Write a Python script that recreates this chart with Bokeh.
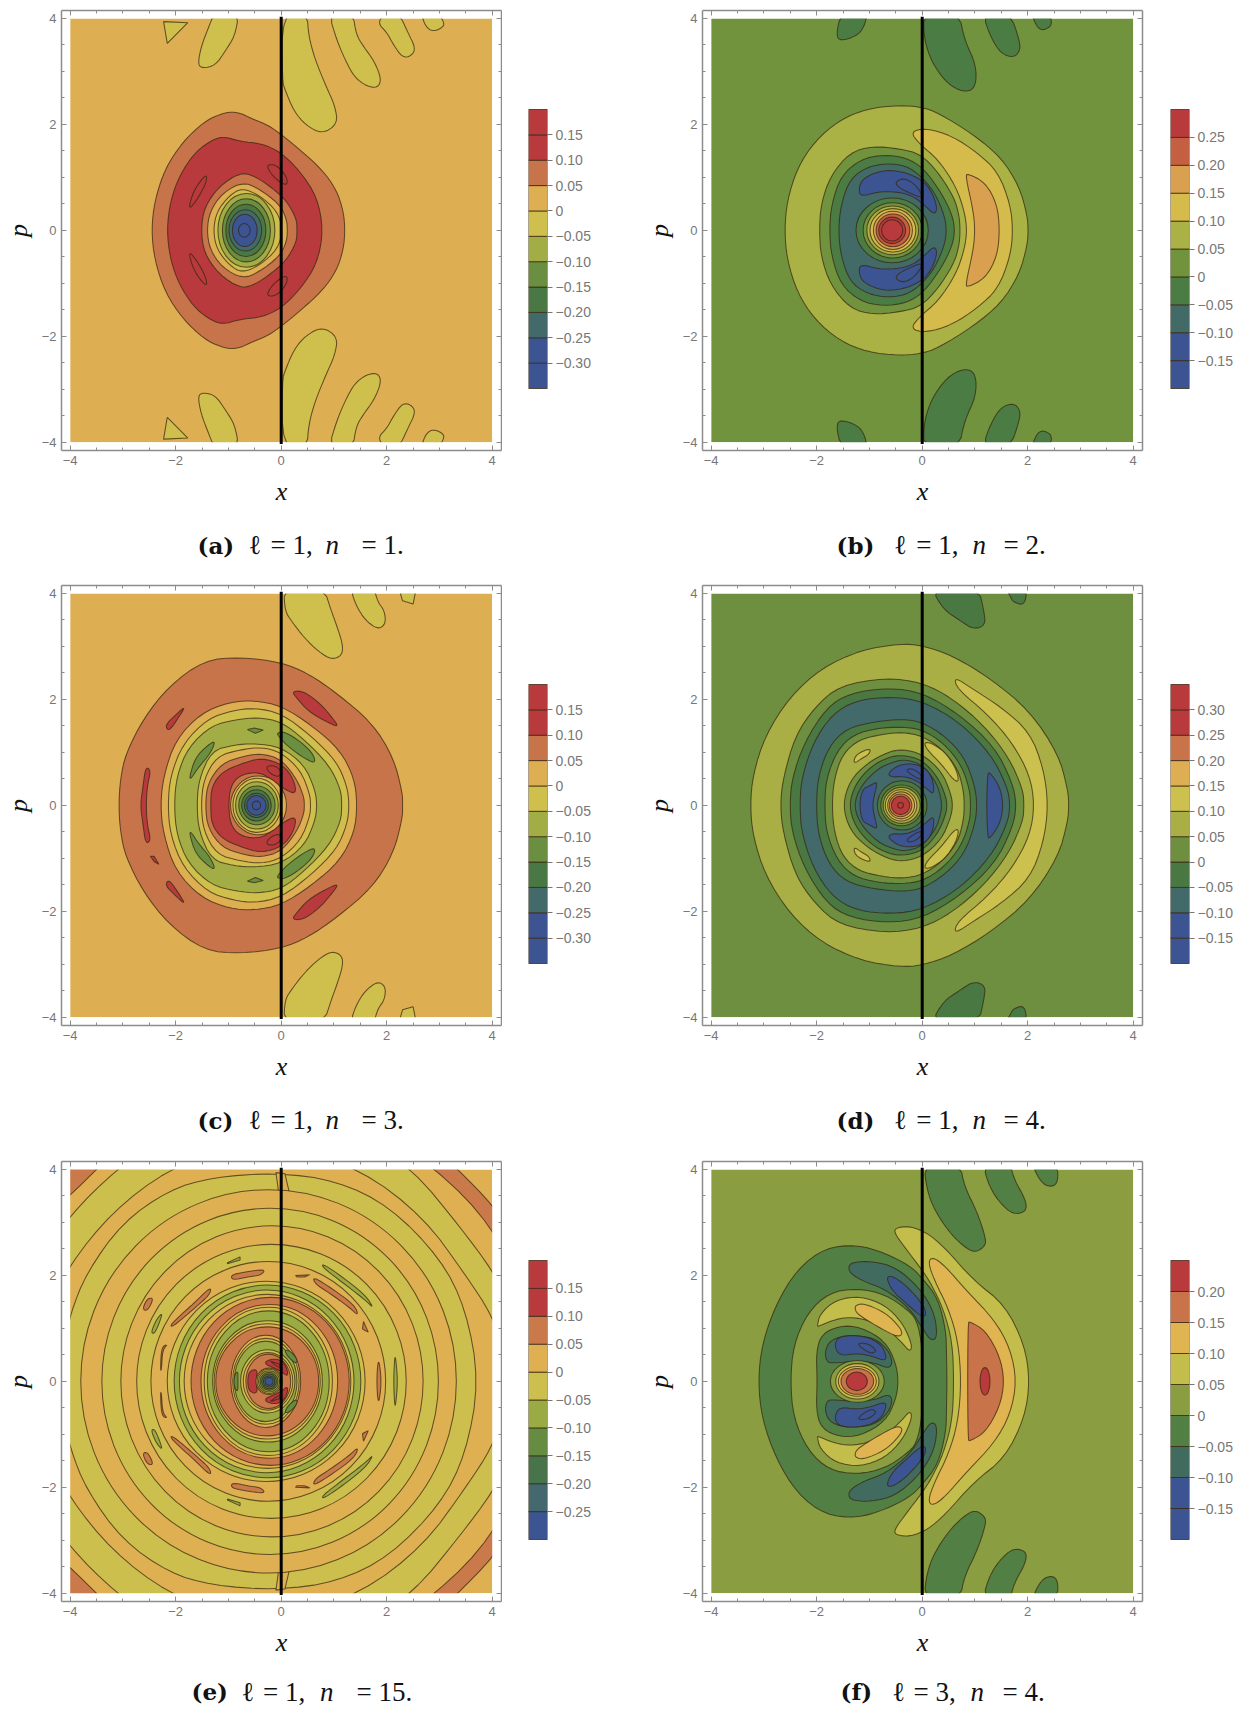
from bokeh.plotting import figure
from bokeh.layouts import row, column
from bokeh.models import Range1d, LinearAxis, FixedTicker
from bokeh.core.properties import value
from bokeh.embed import file_html
from bokeh.resources import INLINE

# ---- colour bands: k is the band's lower bound in units of 0.05 ----
RED = "#b83a3c"
BLUE = "#3c5592"
PAL_A = {3: RED, 2: RED, 1: "#c8744a", 0: "#ddae52", -1: "#cfbf4d", -2: "#a2ad45", -3: "#6b8f40", -4: "#4a7844", -5: "#436a6a", -6: BLUE, -7: BLUE}
PAL_B = {5: RED, 4: "#c45f42", 3: "#d9a14f", 2: "#d4bb4c", 1: "#aab145", 0: "#72933e", -1: "#4b7c44", -2: "#426a66", -3: BLUE, -4: BLUE}
PAL_C = dict(PAL_A)
PAL_D = {6: RED, 5: RED, 4: "#c8734a", 3: "#ddae52", 2: "#ccc04e", 1: "#a9ae45", 0: "#6d8f3f", -1: "#4a7843", -2: "#426a6a", -3: BLUE, -4: BLUE}
PAL_E = {3: RED, 2: RED, 1: "#ca7a4a", 0: "#dfb052", -1: "#ccbf4d", -2: "#9aab44", -3: "#658c40", -4: "#47744a", -5: "#44686e", -6: BLUE}
PAL_F = {4: RED, 3: "#c8734a", 2: "#e0b450", 1: "#c3bd4b", 0: "#8a9e41", -1: "#527f43", -2: "#426b60", -3: BLUE, -4: BLUE}

TICKS_A = [0.15, 0.10, 0.05, 0, -0.05, -0.10, -0.15, -0.20, -0.25, -0.30]
LABELS_A = ["0.15", "0.10", "0.05", "0", "−0.05", "−0.10", "−0.15", "−0.20", "−0.25", "−0.30"]
TICKS_B = [0.25, 0.20, 0.15, 0.10, 0.05, 0, -0.05, -0.10, -0.15]
LABELS_B = ["0.25", "0.20", "0.15", "0.10", "0.05", "0", "−0.05", "−0.10", "−0.15"]
TICKS_D = [0.30, 0.25, 0.20, 0.15, 0.10, 0.05, 0, -0.05, -0.10, -0.15]
LABELS_D = ["0.30", "0.25", "0.20", "0.15", "0.10", "0.05", "0", "−0.05", "−0.10", "−0.15"]
TICKS_E = [0.15, 0.10, 0.05, 0, -0.05, -0.10, -0.15, -0.20, -0.25]
LABELS_E = ["0.15", "0.10", "0.05", "0", "−0.05", "−0.10", "−0.15", "−0.20", "−0.25"]
TICKS_F = [0.20, 0.15, 0.10, 0.05, 0, -0.05, -0.10, -0.15]
LABELS_F = ["0.20", "0.15", "0.10", "0.05", "0", "−0.05", "−0.10", "−0.15"]

AXIS_TICKS = [-4, -2, 0, 2, 4]
AXIS_LABELS = ["−4", "−2", "0", "2", "4"]
AXIS_MINOR = [-3.5, -3, -2.5, -1.5, -1, -0.5, 0.5, 1, 1.5, 2.5, 3, 3.5]

# ---- contours, (x, p) ----
# H half contour from p=0 to p=0 mirrored; B blob mirrored; U single blob;
# O oval (k, centre x, width, height); R ring (k, left, right, top at x=0)
LAYERS_A = [
 ("B", -1, [(-2.23,3.94),(-1.77,3.92),(-2.16,3.53)]),
 ("B", -1, [(-1.58,3.13),(-1.49,3.06),(-1.25,3.11),(-1.05,3.4),(-.88,3.67),(-.8,4.1),(-1.27,4.1),(-1.39,3.8),(-1.52,3.46)]),
 ("B", -1, [(.02,4.1),(.49,4.1),(.52,3.67),(.64,3.23),(.85,2.72),(1.02,2.35),(1.07,2.01),(.78,1.82),(.47,1.98),(.24,2.25),(.07,2.66),(.02,2.82)]),
 ("B", -1, [(.9,4.1),(1.36,4.1),(1.42,3.7),(1.56,3.47),(1.76,3.2),(1.9,2.86),(1.83,2.69),(1.62,2.72),(1.39,2.89),(1.22,3.2),(1.05,3.6)]),
 ("B", -1, [(1.83,3.91),(2.0,3.74),(2.13,3.5),(2.3,3.26),(2.46,3.29),(2.55,3.43),(2.4,3.74),(2.23,4.1),(1.96,4.1)]),
 ("B", -1, [(2.65,4.1),(2.74,3.84),(2.88,3.75),(3.08,3.84),(3.08,3.94),(2.98,4.1)]),
 ("H", 1, [(-2.46,0),(-2.4,.56),(-2.2,1.17),(-1.86,1.68),(-1.46,2.05),(-1.15,2.2),(-.86,2.25),(-.51,2.09),(-.24,1.98),(0,1.81),(.37,1.51),(.78,1.14),(1.05,.76),(1.18,.36),(1.21,0)]),
 ("H", 2, [(-2.17,0),(-2.1,.56),(-1.93,1.03),(-1.66,1.44),(-1.39,1.66),(-1.12,1.78),(-.78,1.68),(-.37,1.64),(0,1.47),(.37,1.1),(.68,.63),(.8,0)]),
 ("B", 3, [(-1.77,.36),(-1.66,.76),(-1.42,1.07),(-1.41,.93),(-1.56,.63)]),
 ("B", 3, [(-.28,1.24),(-.1,1.24),(.1,1.03),(.12,.85),(-.03,.91),(-.2,1.07)]),
 ("H", 1, [(-1.52,0),(-1.46,.43),(-1.18,.83),(-.78,1.09),(-.51,1.03),(-.17,.8),(.1,.56),(.29,.22),(.3,0)]),
 ("H", 0, [(-1.41,0),(-1.35,.36),(-1.12,.7),(-.74,.91),(-.44,.8),(-.03,.49),(.1,.22),(.12,0)]),
 ("H", -1, [(-1.29,0),(-1.22,.36),(-.98,.66),(-.74,.8),(-.41,.66),(-.07,.36),(.03,0)]),
 ("O", -2, -.66, 1.08, 1.39),
 ("O", -3, -.66, .91, 1.19),
 ("O", -4, -.67, .76, .99),
 ("O", -5, -.68, .62, .78),
 ("O", -6, -.69, .47, .61),
 ("O", -7, -.7, .22, .26),
]

LAYERS_B = [
 ("B", -1, [(-1.54,4.1),(-1.04,4.1),(-1.1,3.84),(-1.24,3.67),(-1.56,3.57),(-1.63,3.7)]),
 ("B", -1, [(.03,4.1),(.7,4.1),(.8,3.6),(1.02,3.13),(1.02,2.72),(.84,2.6),(.54,2.72),(.3,2.99),(.13,3.3),(.03,3.67)]),
 ("B", -1, [(1.14,4.1),(1.67,4.1),(1.84,3.6),(1.86,3.4),(1.74,3.26),(1.5,3.33),(1.3,3.64)]),
 ("B", -1, [(2.07,4.1),(2.41,4.1),(2.47,3.87),(2.29,3.77),(2.17,3.84)]),
 ("H", 1, [(-2.61,0),(-2.56,.56),(-2.37,1.17),(-2.04,1.68),(-1.57,2.08),(-1.04,2.3),(-.43,2.36),(-.03,2.33),(.3,2.22),(.97,1.81),(1.5,1.37),(1.84,.83),(1.99,.29),(2.01,0)]),
 ("H", 2, [(1.72,0),(1.67,.49),(1.44,1.1),(1.04,1.47),(.57,1.78),(.07,1.93),(-.23,1.86),(-.03,1.61),(.3,1.34),(.64,.83),(.8,.36),(.85,0)]),
 ("H", 3, [(1.47,0),(1.42,.49),(1.2,.9),(.87,1.07),(.82,1.03),(.97,.36),(1.0,0)]),
 ("H", 0, [(-1.95,0),(-1.92,.49),(-1.74,1.03),(-1.37,1.47),(-.94,1.59),(-.43,1.54),(-.03,1.44),(.3,1.1),(.6,.63),(.7,.29),(.72,0)]),
 ("H", -1, [(-1.76,0),(-1.72,.49),(-1.54,1.03),(-1.17,1.34),(-.74,1.43),(-.3,1.37),(.03,1.17),(.37,.7),(.57,.29),(.62,0)]),
 ("H", -2, [(-1.59,0),(-1.54,.49),(-1.37,.97),(-1.04,1.2),(-.64,1.27),(-.23,1.2),(.17,.83),(.4,.36),(.47,0)]),
 ("B", -3, [(-1.2,.83),(-1.1,1.0),(-.74,1.14),(-.37,1.11),(-.03,.97),(.17,.76),(.29,.43),(.23,.29),(.03,.49),(-.2,.66),(-.5,.73),(-.84,.73),(-1.18,.63)]),
 ("B", -4, [(-.52,.9),(-.37,.99),(-.17,.9),(-.03,.73),(0,.61),(-.23,.7),(-.43,.8)]),
 ("O", -1, -.57, 1.37, 1.22),
 ("O", 0, -.56, 1.12, 1.04),
 ("O", 1, -.56, .98, .92),
 ("O", 2, -.555, .87, .82),
 ("O", 3, -.555, .74, .72),
 ("O", 4, -.555, .64, .62),
 ("O", 5, -.57, .51, .5),
 ("O", 5, -.57, .4, .4),
]

LAYERS_C = [
 ("B", -1, [(.05,4.1),(.81,4.1),(.95,3.67),(1.05,3.4),(1.17,3.03),(1.15,2.83),(.96,2.75),(.71,2.9),(.44,3.16),(.2,3.47),(.07,3.67)]),
 ("B", -1, [(1.31,4.1),(1.76,4.1),(1.83,3.84),(1.96,3.67),(1.98,3.42),(1.83,3.32),(1.59,3.5),(1.42,3.77)]),
 ("B", -1, [(2.23,4.1),(2.56,4.1),(2.5,3.8),(2.3,3.86)]),
 ("H", 1, [(-3.08,0),(-3.05,.49),(-2.95,.97),(-2.61,1.64),(-2.13,2.25),(-1.46,2.74),(-.78,2.8),(0,2.7),(.51,2.49),(1.05,2.12),(1.73,1.55),(2.13,.9),(2.3,.23),(2.3,0)]),
 ("B", 2, [(.2,2.15),(.41,2.16),(.71,1.95),(.95,1.68),(1.1,1.47),(.85,1.58),(.51,1.78),(.3,2.02)]),
 ("B", 2, [(-2.2,1.51),(-2.03,1.68),(-1.81,1.88),(-1.93,1.68),(-2.13,1.39)]),
 ("H", 2, [(-2.67,0),(-2.62,.36),(-2.57,.73),(-2.47,.66),(-2.54,.36),(-2.56,0)]),
 ("U", 2, [(-2.48,-.96),(-2.41,-.96),(-2.32,-1.11),(-2.41,-1.06)]),
 ("H", 0, [(-2.29,0),(-2.23,.56),(-2.0,1.24),(-1.52,1.74),(-.98,1.95),(-.51,1.98),(0,1.88),(.58,1.51),(1.12,1.04),(1.39,.5),(1.44,0)]),
 ("H", -1, [(-2.15,0),(-2.1,.56),(-1.86,1.17),(-1.39,1.64),(-.91,1.79),(-.51,1.84),(0,1.74),(.58,1.3),(1.05,.83),(1.25,.36),(1.29,0)]),
 ("H", -2, [(-2.03,0),(-1.98,.56),(-1.76,1.1),(-1.32,1.51),(-.85,1.62),(-.44,1.66),(0,1.58),(.44,1.24),(.91,.76),(1.13,.3),(1.15,0)]),
 ("B", -3, [(-1.74,.53),(-1.63,.9),(-1.39,1.14),(-1.24,1.22),(-1.35,.97),(-1.56,.73),(-1.71,.5)]),
 ("B", -3, [(-.64,1.43),(-.51,1.46),(-.34,1.42),(-.49,1.36)]),
 ("B", -3, [(-.09,1.37),(.07,1.39),(.37,1.2),(.61,.97),(.65,.78),(.37,.93),(.1,1.14),(-.03,1.28)]),
 ("H", -1, [(-1.6,0),(-1.56,.49),(-1.32,1.03),(-.9,1.14),(-.51,1.17),(0,1.1),(.44,.76),(.64,.3),(.68,0)]),
 ("H", 0, [(-1.52,0),(-1.47,.49),(-1.22,.93),(-.78,1.05),(-.37,1.1),(0,1.0),(.37,.66),(.54,.22),(.56,0)]),
 ("H", 1, [(-1.44,0),(-1.39,.43),(-1.12,.8),(-.71,.93),(-.37,.98),(0,.87),(.3,.49),(.43,.16),(.44,0)]),
 ("H", 2, [(-1.34,0),(-1.32,.36),(-1.12,.63),(-.78,.78),(-.37,.9),(.03,.77),(.24,.49),(.29,.2),(.03,.32),(-.27,.56),(-.5,.63),(-.8,.56),(-.96,.36),(-1.0,0)]),
 ("B", 3, [(-.3,.73),(-.14,.76),(0,.66),(-.03,.53),(-.2,.59)]),
 ("O", 0, -.43, 1.06, 1.11),
 ("O", -1, -.46, .91, 1.02),
 ("O", -2, -.46, .81, .89),
 ("O", -3, -.46, .69, .73),
 ("O", -4, -.47, .56, .59),
 ("O", -5, -.47, .45, .46),
 ("O", -6, -.47, .37, .37),
 ("O", -7, -.47, .16, .16),
]

LAYERS_D = [
 ("B", -1, [(.17,4.1),(1.07,4.1),(1.17,3.67),(1.2,3.4),(.97,3.32),(.7,3.5),(.4,3.7)]),
 ("B", -1, [(1.57,4.1),(1.99,4.1),(1.94,3.77),(1.72,3.84),(1.67,3.95)]),
 ("H", 1, [(-3.26,0),(-3.21,.57),(-2.98,1.31),(-2.51,2.05),(-1.91,2.59),(-1.17,2.93),(-.43,3.05),(0,3.02),(.57,2.83),(1.3,2.39),(2.04,1.78),(2.58,.97),(2.76,.3),(2.78,0)]),
 ("H", 2, [(2.39,0),(2.3,.7),(2.04,1.38),(1.5,1.85),(.97,2.19),(.6,2.43),(.67,2.19),(1.24,1.72),(1.71,1.18),(2.04,.57),(2.13,0)]),
 ("H", 0, [(-2.69,0),(-2.64,.5),(-2.41,1.31),(-2.04,1.85),(-1.57,2.26),(-.7,2.41),(0,2.32),(.57,2.02),(1.17,1.51),(1.64,.91),(1.91,.3),(1.93,0)]),
 ("H", -1, [(-2.51,0),(-2.47,.5),(-2.24,1.18),(-1.81,1.85),(-1.37,2.12),(-.64,2.22),(0,2.13),(.7,1.72),(1.37,1.11),(1.71,.43),(1.79,0)]),
 ("H", -2, [(-2.32,0),(-2.29,.5),(-2.07,1.18),(-1.71,1.72),(-1.24,1.99),(-.57,2.05),(0,1.97),(.7,1.58),(1.3,.97),(1.61,.36),(1.67,0)]),
 ("H", -3, [(1.54,0),(1.47,.36),(1.27,.64),(1.24,.57),(1.22,0)]),
 ("H", -1, [(-2.01,0),(-1.97,.56),(-1.77,1.11),(-1.44,1.45),(-.9,1.58),(-.37,1.63),(0,1.57),(.43,1.31),(.8,.91),(1.0,.36),(1.04,0)]),
 ("H", 0, [(-1.85,0),(-1.82,.5),(-1.61,1.04),(-1.3,1.34),(-.84,1.46),(-.37,1.48),(0,1.43),(.4,1.18),(.74,.77),(.9,.3),(.92,0)]),
 ("H", 1, [(-1.71,0),(-1.67,.5),(-1.51,.97),(-1.2,1.24),(-.77,1.34),(-.37,1.38),(0,1.31),(.37,1.07),(.67,.7),(.78,.3),(.8,0)]),
 ("B", 2, [(-1.3,.84),(-1.24,.97),(-.98,1.08),(-1.0,.97),(-1.17,.87),(-1.27,.8)]),
 ("B", 2, [(.03,1.19),(.17,1.18),(.43,1.01),(.64,.7),(.7,.45),(.6,.47),(.37,.77),(.1,1.04)]),
 ("H", 0, [(-1.51,0),(-1.37,.47),(-1.04,.8),(-.64,1.01),(-.37,1.06),(0,.97),(.37,.64),(.54,.23),(.58,0)]),
 ("H", -1, [(-1.39,0),(-1.27,.4),(-.97,.74),(-.64,.91),(-.37,.95),(0,.86),(.3,.53),(.45,.16),(.47,0)]),
 ("H", -2, [(-1.3,0),(-1.17,.36),(-.84,.7),(-.5,.84),(-.3,.86),(0,.77),(.27,.43),(.35,.16),(.37,0)]),
 ("H", -3, [(-1.19,0),(-1.14,.3),(-1.0,.37),(-.85,.45),(-.88,.3),(-.95,0)]),
 ("B", -3, [(-.66,.6),(-.44,.77),(-.17,.79),(.07,.7),(.2,.5),(.23,.2),(.1,.3),(-.1,.47),(-.37,.55),(-.57,.53)]),
 ("B", -4, [(-.31,.67),(-.2,.7),(-.03,.6),(0,.47),(-.2,.57)]),
 ("O", -1, -.38, .94, .93),
 ("O", 0, -.39, .79, .77),
 ("O", 1, -.39, .7, .68),
 ("O", 2, -.4, .6, .59),
 ("O", 3, -.4, .51, .51),
 ("O", 4, -.41, .43, .43),
 ("O", 5, -.41, .35, .35),
 ("O", 6, -.41, .11, .11),
]

LAYERS_E = [
 ("H", 1, [(-6,0),(-6,6),(1.7,6),(2.5,4.8),(3.35,4),(4,3.34),(4.6,2.5),(5,0)]),
 ("H", 0, [(-5.3,0),(-5,2),(-4.6,3),(-4,3.51),(-3.5,4),(-3,4.5),(-2,5),(0,5.4),(1.5,5),(2.96,4),(4,2.93),(4.7,1.5),(5,0)]),
 ("H", -1, [(-5.2,0),(-5,1.8),(-4,3.14),(-3.13,4),(-2,4.8),(0,5.2),(1.3,4.8),(2.5,4),(3.4,2.9),(4,2.1),(4.5,1.2),(4.7,0)]),
 ("H", 0, [(-4.8,0),(-4.6,1.1),(-4,2.22),(-3.2,3.2),(-2.15,4),(-1,4.4),(0,4.5),(1.52,4),(2.7,3.1),(3.5,2.0),(4,1.24),(4.2,.6),(4.3,0)]),
 ("H", -1, [(-4.15,0),(-4.1,.7),(-4,1.27),(-3.69,2.05),(-3.01,3.0),(-2.13,3.61),(-1.32,3.85),(-.1,3.94),(1.05,3.79),(2.06,3.3),(3.02,2.32),(3.5,1.37),(3.75,0)]),
 ("B", 0, [(-.1,3.94),(.07,3.92),(.15,3.58),(-.05,3.58)]),
 ("R", 0, -3.8, 3.32, 3.61),
 ("R", -1, -3.4, 2.98, 3.26),
 ("R", 0, -3.04, 2.69, 2.93),
 ("R", -1, -2.74, 2.37, 2.58),
 ("B", -2, [(.78,2.22),(1.05,2.05),(1.59,1.64),(1.76,1.37),(1.59,1.54),(1.05,1.95),(.79,2.15)]),
 ("B", -2, [(-2.47,.92),(-2.37,1.16),(-2.25,1.3),(-2.3,1.13),(-2.4,.9)]),
 ("B", -2, [(-1.02,2.24),(-.78,2.35),(-.78,2.29),(-1.02,2.22)]),
 ("H", -2, [(2.13,0),(2.15,.45),(2.17,.45),(2.21,0)]),
 ("R", 0, -2.47, 1.98, 2.25),
 ("B", 1, [(-.95,2.01),(-.71,2.06),(-.3,2.12),(-.37,2.01),(-.64,1.97),(-.93,1.91)]),
 ("B", 1, [(-2.1,1.06),(-1.93,1.23),(-1.66,1.47),(-1.33,1.79),(-1.35,1.64),(-1.62,1.4),(-1.9,1.16),(-2.07,1.03)]),
 ("B", 1, [(-2.62,1.4),(-2.53,1.57),(-2.42,1.57),(-2.51,1.37),(-2.59,1.33)]),
 ("B", 1, [(-2.29,.21),(-2.27,.65),(-2.15,.7),(-2.25,.59),(-2.27,.21)]),
 ("B", 1, [(.27,2.0),(.54,2.01),(.44,1.97),(.3,1.97)]),
 ("B", 1, [(.6,1.98),(.98,1.74),(1.39,1.44),(1.47,1.23),(1.29,1.4),(.91,1.67),(.64,1.84)]),
 ("B", 1, [(1.56,1.13),(1.65,.93),(1.59,.96),(1.54,.99)]),
 ("H", 1, [(1.81,0),(1.83,.35),(1.86,.37),(1.9,0)]),
 ("R", -1, -2.16, 1.59, 1.87),
 ("R", -2, -2.03, 1.51, 1.8),
 ("R", -1, -1.93, 1.38, 1.7),
 ("R", 0, -1.84, 1.32, 1.62),
 ("R", 1, -1.71, 1.29, 1.57),
 ("R", 0, -1.52, 1.07, 1.43),
 ("R", -1, -1.46, .97, 1.37),
 ("R", -2, -1.4, .91, 1.3),
 ("R", -1, -1.3, .78, 1.11),
 ("R", 0, -1.27, .74, 1.05),
 ("R", 1, -1.24, .71, .99),
 ("R", 0, -.955, .37, .78),
 ("R", -1, -.92, .34, .72),
 ("R", -2, -.89, .3, .66),
 ("H", -3, [(-.9,0),(-.88,.13),(-.82,.2),(-.82,0)]),
 ("B", -3, [(.06,.6),(.18,.57),(.31,.41),(.28,.33),(.12,.47)]),
 ("R", -1, -.77, .26, .52),
 ("R", 0, -.72, .22, .46),
 ("R", 1, -.67, .18, .42),
 ("H", 2, [(-.64,0),(-.61,.19),(-.45,.24),(-.47,0)]),
 ("B", 2, [(-.3,.38),(-.13,.43),(.03,.38),(.12,.22),(.12,.09),(0,.19),(-.2,.28),(-.29,.32)]),
 ("B", 3, [(-.2,.38),(-.04,.33),(0,.24),(-.13,.32)]),
 ("O", 0, -.23, .5, .5),
 ("O", -1, -.23, .455, .455),
 ("O", -2, -.23, .4, .4),
 ("O", -3, -.23, .34, .34),
 ("O", -4, -.23, .28, .28),
 ("O", -5, -.23, .215, .215),
 ("O", -6, -.23, .15, .15),
]

LAYERS_F = [
 ("B", -1, [(.03,4.1),(.72,4.1),(.8,3.68),(1.04,3.2),(1.2,2.72),(1.2,2.56),(1.0,2.42),(.77,2.56),(.5,2.83),(.23,3.24),(.09,3.61)]),
 ("B", -1, [(1.15,4.1),(1.67,4.1),(1.74,3.82),(1.97,3.41),(1.97,3.2),(1.72,3.15),(1.47,3.37),(1.27,3.68)]),
 ("B", -1, [(2.09,4.1),(2.57,4.1),(2.57,3.71),(2.37,3.67),(2.21,3.82)]),
 ("H", 1, [(2.04,0),(1.94,.69),(1.57,1.44),(.97,1.91),(.43,2.52),(.1,2.8),(-.23,2.93),(-.5,2.9),(-.53,2.8),(-.3,2.49),(0,2.1),(.17,1.84),(.4,1.37),(.57,.75),(.6,0)]),
 ("H", 2, [(1.79,0),(1.67,.62),(1.37,1.16),(.84,1.71),(.43,2.18),(.2,2.35),(.11,2.25),(.23,1.91),(.5,1.37),(.68,.76),(.74,0)]),
 ("H", 3, [(1.56,0),(1.47,.48),(1.2,.96),(.9,1.13),(.87,1.1),(.86,0)]),
 ("O", 4, 1.19, .19, .52),
 ("H", -1, [(-3.11,0),(-3.04,.69),(-2.78,1.44),(-2.37,2.12),(-1.84,2.52),(-1.24,2.58),(-.7,2.42),(-.23,2.18),(0,1.95),(.3,1.57),(.45,.96),(.46,.54),(.47,0)]),
 ("H", 0, [(-2.5,0),(-2.44,.69),(-2.17,1.3),(-1.77,1.67),(-1.24,1.76),(-.7,1.64),(-.3,1.37),(-.1,1.16),(0,.65),(0,0)]),
 ("B", -2, [(-1.4,2.18),(-1.3,2.25),(-.97,2.27),(-.5,2.16),(-.03,1.74),(.23,1.3),(.29,.84),(.17,.76),(.03,.96),(-.23,1.37),(-.7,1.74),(-1.1,1.88),(-1.37,2.04)]),
 ("B", -3, [(-.69,1.98),(-.53,1.98),(-.23,1.74),(.05,1.4),(.07,1.23),(-.03,1.23),(-.3,1.47),(-.57,1.71)]),
 ("B", 1, [(-1.99,1.04),(-1.94,1.27),(-1.64,1.54),(-1.17,1.61),(-.7,1.44),(-.37,1.1),(-.19,.69),(-.23,.55),(-.4,.75),(-.7,1.03),(-1.17,1.2),(-1.57,1.2),(-1.97,1.04)]),
 ("B", 2, [(-1.27,1.44),(-1.1,1.47),(-.7,1.3),(-.43,1.03),(-.37,.89),(-.47,.84),(-.77,.99),(-1.17,1.23),(-1.27,1.33)]),
 ("H", -1, [(-1.99,0),(-2.01,.55),(-1.91,.89),(-1.57,1.05),(-1.17,1.03),(-.7,.76),(-.5,.35),(-.45,0)]),
 ("B", -2, [(-1.85,.55),(-1.74,.79),(-1.37,.88),(-.9,.82),(-.64,.59),(-.56,.35),(-.64,.24),(-.9,.35),(-1.24,.38),(-1.64,.35),(-1.8,.35)]),
 ("B", -3, [(-1.67,.69),(-1.57,.86),(-1.1,.86),(-.8,.72),(-.69,.52),(-.69,.38),(-.97,.48),(-1.24,.53),(-1.57,.48)]),
 ("B", -4, [(-1.24,.72),(-1.04,.72),(-.86,.59),(-.94,.52),(-1.1,.59)]),
 ("O", 0, -1.23, 1.02, .79),
 ("O", 1, -1.23, .82, .67),
 ("O", 2, -1.23, .72, .56),
 ("O", 3, -1.23, .62, .49),
 ("O", 4, -1.24, .4, .35),
]

GREY = "#777777"
LINE = "#35260f"


def rounded(xs, ys):
    """Draw a closed outline with its corners rounded."""
    if len(xs) < 5:
        return xs, ys
    for _ in range(2):
        nx, ny = [], []
        n = len(xs)
        for i in range(n):
            j = (i + 1) % n
            nx += [0.75 * xs[i] + 0.25 * xs[j], 0.25 * xs[i] + 0.75 * xs[j]]
            ny += [0.75 * ys[i] + 0.25 * ys[j], 0.25 * ys[i] + 0.75 * ys[j]]
        xs, ys = nx, ny
    return xs, ys


def add_contours(p, layers, pal):
    for item in layers:
        kind, k = item[0], item[1]
        style = dict(fill_color=pal[k], line_color=LINE, line_alpha=0.72, line_width=1.05)
        if kind == "H":
            pts = item[2]
            lower = [(a, -b) for a, b in reversed(pts) if b != 0]
            full = list(pts) + lower
            xs, ys = rounded([a for a, b in full], [b for a, b in full])
            p.patch(xs, ys, **style)
        elif kind == "B":
            pts = item[2]
            xs, ys = rounded([a for a, b in pts], [b for a, b in pts])
            p.patch(xs, ys, **style)
            p.patch(xs, [-b for b in ys], **style)
        elif kind == "U":
            pts = item[2]
            p.patch([a for a, b in pts], [b for a, b in pts], **style)
        elif kind == "O":
            p.ellipse([item[2]], [0], width=[item[3]], height=[item[4]], **style)
        elif kind == "R":
            left, right, top = item[2:]
            c, a = (left + right) / 2, (right - left) / 2
            b = top / (1 - (c / a) ** 2) ** 0.5
            p.ellipse([c], [0], width=[2 * a], height=[2 * b], **style)


def panel(layers, pal, bg, width, frame_w, left, right, height, top, frame_h):
    p = figure(width=width, height=height, output_backend="svg", toolbar_location=None,
               x_range=Range1d(-4.165, 4.176), y_range=Range1d(-4.155, 4.15),
               min_border_left=left, min_border_right=right, min_border_top=top,
               min_border_bottom=height - top - frame_h, x_axis_type=None, y_axis_type=None,
               background_fill_color="white", outline_line_color=None)
    p.grid.visible = False
    p.quad(left=[-4], right=[4], bottom=[-4], top=[4], fill_color=pal[bg], line_color=None)
    add_contours(p, layers, pal)
    for l, r, b, t in [(-9, -4, -9, 9), (4, 9, -9, 9), (-9, 9, 4, 9), (-9, 9, -9, -4)]:
        p.quad(left=[l], right=[r], bottom=[b], top=[t], fill_color="white", line_color=None)
    p.line([0, 0], [-4.03, 4.03], line_color="black", line_width=3)
    ticker = FixedTicker(ticks=AXIS_TICKS, minor_ticks=AXIS_MINOR)
    base = dict(ticker=ticker, axis_line_color="#8c8c8c", axis_line_width=1.5,
                major_tick_line_color="#8c8c8c", minor_tick_line_color="#8c8c8c",
                major_tick_in=5, major_tick_out=0, minor_tick_in=3, minor_tick_out=0)
    shown = dict(major_label_overrides=dict(zip(AXIS_TICKS, AXIS_LABELS)),
                 major_label_text_color=GREY, major_label_text_font="Liberation Sans",
                 major_label_text_font_size="13px", major_label_standoff=5,
                 axis_label_text_font="Liberation Serif", axis_label_text_font_style="italic",
                 axis_label_text_font_size="26px", axis_label_text_color="#111111")
    hidden = dict(major_label_overrides={t: "" for t in AXIS_TICKS}, major_label_standoff=0)
    p.add_layout(LinearAxis(axis_label="x", axis_label_standoff=9, **base, **shown), "below")
    p.add_layout(LinearAxis(axis_label="p", axis_label_standoff=6, **base, **shown), "left")
    p.add_layout(LinearAxis(**base, **hidden), "above")
    p.add_layout(LinearAxis(**base, **hidden), "right")
    return p


def bar(pal, ticks, labels, width, left, frame_w, height, top, frame_h, above=99):
    """The bar shares its row's frame height; the band stack fills 279 of its pixels."""
    ks = sorted(pal)
    vmin, vmax = ks[0] * 0.05, (ks[-1] + 1) * 0.05
    per_px = (vmax - vmin) / 279
    below = frame_h - above - 279
    p = figure(width=width, height=height, output_backend="svg", toolbar_location=None,
               x_range=Range1d(0, 1), y_range=Range1d(vmin - below * per_px, vmax + above * per_px),
               x_axis_type=None, y_axis_location="right", min_border_left=left, min_border_top=top,
               min_border_bottom=height - top - frame_h, min_border_right=width - left - frame_w,
               outline_line_color=None)
    p.grid.visible = False
    p.quad(left=0, right=1, bottom=[k * 0.05 for k in ks], top=[(k + 1) * 0.05 for k in ks],
           fill_color=[pal[k] for k in ks], line_color=LINE, line_alpha=0.75, line_width=1)
    ax = p.yaxis[0]
    ax.ticker = FixedTicker(ticks=ticks)
    ax.major_label_overrides = dict(zip(ticks, labels))
    ax.major_label_text_color = GREY
    ax.major_label_text_font = "Liberation Sans"
    ax.major_label_text_font_size = "14px"
    ax.major_label_standoff = 3
    ax.axis_line_color = None
    ax.major_tick_line_color = GREY
    ax.major_tick_in = 0
    ax.major_tick_out = 5
    ax.minor_tick_line_color = None
    return p


def caption_strip(height, page_top, baseline, groups):
    """A strip as wide as the page, whose x range is the page's own x in pixels."""
    p = figure(width=1242, height=height, output_backend="svg", toolbar_location=None,
               x_range=Range1d(0, 1242), y_range=Range1d(height, 0), x_axis_type=None, y_axis_type=None,
               min_border=0, outline_line_color=None)
    p.grid.visible = False
    y = baseline - page_top
    for letter, ell, rest1, n, rest2, xs in groups:
        parts = [(letter, xs[0], "DejaVu Serif", "bold", "23px"), (ell, xs[1], "Liberation Serif", "normal", "27px"),
                 (rest1, xs[2], "Liberation Serif", "normal", "27px"), (n, xs[3], "Liberation Serif", "italic", "27px"),
                 (rest2, xs[4], "Liberation Serif", "normal", "27px")]
        for text, x, font, style, size in parts:
            p.text(x=[x], y=[y], text=[text], text_font=value(font), text_font_style=style,
                   text_font_size=value(size), text_color="#111111", text_baseline="alphabetic")
    return p


LEFT = dict(width=502, frame_w=440, left=61, right=1)
RIGHT = dict(width=503, frame_w=440, left=61, right=2)

pa = panel(LAYERS_A, PAL_A, 0, height=515, top=10, frame_h=440, **LEFT)
pb = panel(LAYERS_B, PAL_B, 0, height=515, top=10, frame_h=440, **RIGHT)
pc = panel(LAYERS_C, PAL_C, 0, height=507, top=2, frame_h=440, **LEFT)
pd = panel(LAYERS_D, PAL_D, 0, height=507, top=2, frame_h=440, **RIGHT)
pe = panel(LAYERS_E, PAL_E, 0, height=506, top=2, frame_h=440, **LEFT)
pf = panel(LAYERS_F, PAL_F, 0, height=506, top=2, frame_h=440, **RIGHT)

ba = bar(PAL_A, TICKS_A, LABELS_A, 139, 26, 19, height=515, top=10, frame_h=440)
bb = bar(PAL_B, TICKS_B, LABELS_B, 98, 26, 19, height=515, top=10, frame_h=440)
bc = bar(PAL_C, TICKS_A, LABELS_A, 139, 26, 19, height=507, top=2, frame_h=440)
bd = bar(PAL_D, TICKS_D, LABELS_D, 98, 26, 19, height=507, top=2, frame_h=440)
be = bar(PAL_E, TICKS_E, LABELS_E, 139, 26, 19, height=506, top=2, frame_h=440)
bf = bar(PAL_F, TICKS_F, LABELS_F, 98, 26, 19, height=506, top=2, frame_h=440)

cap1 = caption_strip(68, 515, 544.6, [("(a)", "ℓ", "= 1,", "n", "= 1.", [197, 248, 270, 325, 361]),
                                      ("(b)", "ℓ", "= 1,", "n", "= 2.", [836, 893.6, 915.7, 972, 1003])])
cap2 = caption_strip(69, 1090, 1119.6, [("(c)", "ℓ", "= 1,", "n", "= 3.", [197, 248, 270, 325, 361]),
                                        ("(d)", "ℓ", "= 1,", "n", "= 4.", [836, 893.6, 915.7, 972, 1003])])
cap3 = caption_strip(48, 1665, 1691, [("(e)", "ℓ", "= 1,", "n", "= 15.", [191, 241, 262.5, 319.6, 356]),
                                      ("(f)", "ℓ", "= 3,", "n", "= 4.", [840, 891.8, 913, 970, 1002])])

page = column(row(pa, ba, pb, bb), cap1, row(pc, bc, pd, bd), cap2, row(pe, be, pf, bf), cap3)
open("out.html", "w").write(file_html(page, INLINE))
